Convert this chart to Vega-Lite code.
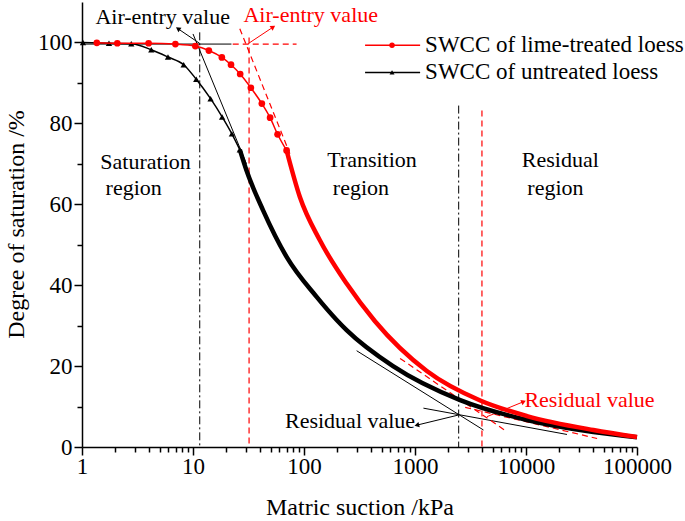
{
  "$schema": "https://vega.github.io/schema/vega-lite/v6.json",
  "width": 555,
  "height": 445,
  "autosize": {"type": "none"},
  "padding": {"left": 82, "top": 2, "right": 48, "bottom": 74},
  "background": "white",
  "config": {
    "view": {"stroke": null},
    "font": "Liberation Serif",
    "axis": {
      "grid": false,
      "domainColor": "black",
      "domainWidth": 1.5,
      "tickColor": "black",
      "tickWidth": 1.5,
      "labelFont": "Liberation Serif",
      "labelFontSize": 23,
      "labelColor": "black",
      "titleFont": "Liberation Serif",
      "titleFontSize": 24,
      "titleFontWeight": "normal",
      "titleColor": "black"
    }
  },
  "datasets": {
    "lime_pts": [
      {"x": 1.36, "y": 99.9}, {"x": 2.08, "y": 99.8}, {"x": 3.98, "y": 99.8}, {"x": 6.94, "y": 99.6},
      {"x": 10.5, "y": 99.1}, {"x": 13.9, "y": 98.0}, {"x": 18.2, "y": 96.3}, {"x": 22.0, "y": 94.5},
      {"x": 26.6, "y": 92.2}, {"x": 33.2, "y": 88.8}, {"x": 41.7, "y": 84.9}, {"x": 49.5, "y": 81.4},
      {"x": 57.8, "y": 77.3}, {"x": 69.7, "y": 73.3}
    ],
    "lime_line": [
      {"x": 69.7, "y": 73.3}, {"x": 91.8, "y": 61.8}, {"x": 139, "y": 51.1}, {"x": 242, "y": 40.4},
      {"x": 436, "y": 31.1}, {"x": 1278, "y": 18.8}, {"x": 3868, "y": 11.5},
      {"x": 10210, "y": 7.65}, {"x": 40460, "y": 4.2}, {"x": 100000, "y": 2.47}
    ],
    "untr_pts": [
      {"x": 1.02, "y": 100}, {"x": 1.75, "y": 99.8}, {"x": 2.78, "y": 99.7}, {"x": 4.21, "y": 98.2},
      {"x": 5.95, "y": 96.4}, {"x": 8.24, "y": 94.5}, {"x": 10.7, "y": 90.9}, {"x": 14.4, "y": 86.1},
      {"x": 18.3, "y": 81.6}, {"x": 22.4, "y": 77.4}, {"x": 26.4, "y": 73.5}
    ],
    "untr_line": [
      {"x": 26.4, "y": 73.5}, {"x": 30.3, "y": 68.4}, {"x": 42.8, "y": 58.5}, {"x": 69.7, "y": 47.0},
      {"x": 130, "y": 37.1}, {"x": 197, "y": 31.4}, {"x": 242, "y": 28.9}, {"x": 634, "y": 20.0},
      {"x": 2553, "y": 11.6}, {"x": 10210, "y": 6.67}, {"x": 40460, "y": 3.7}, {"x": 100000, "y": 2.4}
    ],
    "blk": [
      {"id": "h", "o": 0, "x": 1, "y": 99.6}, {"id": "h", "o": 1, "x": 22.2, "y": 99.6},
      {"id": "t1", "o": 0, "x": 10.0, "y": 102.1}, {"id": "t1", "o": 1, "x": 30.3, "y": 70.0},
      {"id": "t2", "o": 0, "x": 298, "y": 23.8}, {"id": "t2", "o": 1, "x": 4140, "y": 4.2},
      {"id": "t3", "o": 0, "x": 1191, "y": 9.6}, {"id": "t3", "o": 1, "x": 23400, "y": 3.1},
      {"id": "a1", "o": 0, "x": 11.5, "y": 99.75}, {"id": "a1", "o": 1, "x": 7.32, "y": 103.4},
      {"id": "a2", "o": 0, "x": 2460, "y": 7.9}, {"id": "a2", "o": 1, "x": 1038, "y": 5.4}
    ],
    "dd": [
      {"id": "v1", "o": 0, "x": 11.5, "y": 102.5}, {"id": "v1", "o": 1, "x": 11.5, "y": 0},
      {"id": "v2", "o": 0, "x": 2475, "y": 84.4}, {"id": "v2", "o": 1, "x": 2475, "y": 0}
    ],
    "rd": [
      {"id": "h", "o": 0, "x": 22.8, "y": 99.6}, {"id": "h", "o": 1, "x": 85.7, "y": 99.6},
      {"id": "v1", "o": 0, "x": 32, "y": 101.2}, {"id": "v1", "o": 1, "x": 32, "y": 0},
      {"id": "v2", "o": 0, "x": 4010, "y": 83.2}, {"id": "v2", "o": 1, "x": 4010, "y": 0},
      {"id": "t1", "o": 0, "x": 26.4, "y": 103.4}, {"id": "t1", "o": 1, "x": 74.6, "y": 72.5},
      {"id": "t2", "o": 0, "x": 734, "y": 21.9}, {"id": "t2", "o": 1, "x": 6730, "y": 3.8},
      {"id": "t3", "o": 0, "x": 2832, "y": 9.8}, {"id": "t3", "o": 1, "x": 43700, "y": 2.1}
    ],
    "rs": [
      {"id": "a1", "o": 0, "x": 31.4, "y": 99.7}, {"id": "a1", "o": 1, "x": 52.7, "y": 103.8},
      {"id": "a2", "o": 0, "x": 4450, "y": 7.5}, {"id": "a2", "o": 1, "x": 9510, "y": 11.2}
    ],
    "heads": [
      {"id": "bA", "x": 7.32, "y": 103.4}, {"id": "rA", "x": 52.7, "y": 103.8},
      {"id": "bR", "x": 1038, "y": 5.4}, {"id": "rR", "x": 9510, "y": 11.2}
    ],
    "txt_black": [
      {"t": "Air-entry value", "x": 5.33, "y": 106.2},
      {"t": "Saturation", "x": 3.74, "y": 70.4}, {"t": "region", "x": 2.92, "y": 64.0},
      {"t": "Transition", "x": 410, "y": 70.9}, {"t": "region", "x": 326, "y": 64.0},
      {"t": "Residual", "x": 20400, "y": 70.9}, {"t": "region", "x": 18400, "y": 64.0},
      {"t": "Residual value", "x": 260, "y": 6.4}
    ],
    "txt_red": [
      {"t": "Air-entry value", "x": 115, "y": 106.7},
      {"t": "Residual value", "x": 37300, "y": 11.6}
    ],
    "leg_lines": [
      {"s": "lime", "o": 0, "x": 355, "y": 99.3}, {"s": "lime", "o": 1, "x": 1112, "y": 99.3},
      {"s": "untr", "o": 0, "x": 355, "y": 92.6}, {"s": "untr", "o": 1, "x": 1112, "y": 92.6}
    ],
    "leg_pts": [
      {"s": "lime", "x": 621, "y": 99.3}, {"s": "untr", "x": 621, "y": 92.6}
    ],
    "leg_txt": [
      {"s": "lime", "t": "SWCC of lime-treated loess", "x": 1233, "y": 99.3},
      {"s": "untr", "t": "SWCC of untreated loess", "x": 1233, "y": 92.6}
    ]
  },
  "encoding": {
    "x": {
      "field": "x", "type": "quantitative",
      "scale": {"type": "log", "domain": [1, 100000]},
      "axis": {
        "title": "Matric suction /kPa",
        "values": [1,2,3,4,5,6,7,8,9,10,20,30,40,50,60,70,80,90,100,200,300,400,500,600,700,800,900,1000,2000,3000,4000,5000,6000,7000,8000,9000,10000,20000,30000,40000,50000,60000,70000,80000,90000,100000],
        "format": "d",
        "labelExpr": "indexof([1,10,100,1000,10000,100000], datum.value) >= 0 ? datum.label : ''",
        "tickSize": {"condition": {"test": "indexof([1,10,100,1000,10000,100000], datum.value) >= 0", "value": 8}, "value": 5},
        "labelPadding": 0,
        "labelFlush": false,
        "labelOverlap": false,
        "titleY": 67,
        "titleBaseline": "alphabetic"
      }
    },
    "y": {
      "field": "y", "type": "quantitative",
      "scale": {"domain": [0, 110], "nice": false},
      "axis": {
        "title": "Degree of saturation /%",
        "values": [0,10,20,30,40,50,60,70,80,90,100],
        "labelExpr": "datum.value % 20 == 0 ? datum.label : ''",
        "tickSize": {"condition": {"test": "datum.value % 20 == 0", "value": 8}, "value": 5},
        "labelPadding": 2,
        "labelOverlap": false,
        "titleX": -66,
        "titleY": 222,
        "titleBaseline": "middle",
        "titleAlign": "center"
      }
    }
  },
  "layer": [
    {"data": {"name": "blk"}, "mark": {"type": "line", "color": "black", "strokeWidth": 1}, "encoding": {"detail": {"field": "id"}, "order": {"field": "o"}}},
    {"data": {"name": "dd"}, "mark": {"type": "line", "color": "black", "strokeWidth": 1, "strokeDash": [8, 3, 2, 3]}, "encoding": {"detail": {"field": "id"}, "order": {"field": "o"}}},
    {"data": {"name": "rd"}, "mark": {"type": "line", "color": "#ff0000", "strokeWidth": 1.2, "strokeDash": [6, 4]}, "encoding": {"detail": {"field": "id"}, "order": {"field": "o"}}},
    {"data": {"name": "rs"}, "mark": {"type": "line", "color": "#ff0000", "strokeWidth": 1}, "encoding": {"detail": {"field": "id"}, "order": {"field": "o"}}},
    {"data": {"name": "untr_line"}, "mark": {"type": "line", "color": "black", "strokeWidth": 4.5, "interpolate": "monotone"}, "encoding": {}},
    {"data": {"name": "lime_line"}, "mark": {"type": "line", "color": "#ff0000", "strokeWidth": 4.5, "interpolate": "monotone"}, "encoding": {}},
    {"data": {"name": "untr_pts"}, "mark": {"type": "line", "color": "black", "strokeWidth": 1.5, "interpolate": "monotone"}, "encoding": {}},
    {"data": {"name": "untr_pts"}, "mark": {"type": "point", "shape": "triangle-up", "filled": true, "color": "black", "size": 40, "opacity": 1}},
    {"data": {"name": "lime_pts"}, "mark": {"type": "line", "color": "#ff0000", "strokeWidth": 1.5, "interpolate": "monotone"}, "encoding": {}},
    {"data": {"name": "lime_pts"}, "mark": {"type": "point", "shape": "circle", "filled": true, "color": "#ff0000", "size": 45, "opacity": 1}},
    {"data": {"name": "heads"}, "transform": [{"filter": "datum.id == 'bA'"}], "mark": {"type": "point", "shape": "triangle-up", "filled": true, "color": "black", "size": 30, "opacity": 1, "angle": 304}},
    {"data": {"name": "heads"}, "transform": [{"filter": "datum.id == 'rA'"}], "mark": {"type": "point", "shape": "triangle-up", "filled": true, "color": "#ff0000", "size": 30, "opacity": 1, "angle": 57}},
    {"data": {"name": "heads"}, "transform": [{"filter": "datum.id == 'bR'"}], "mark": {"type": "point", "shape": "triangle-up", "filled": true, "color": "black", "size": 30, "opacity": 1, "angle": 256}},
    {"data": {"name": "heads"}, "transform": [{"filter": "datum.id == 'rR'"}], "mark": {"type": "point", "shape": "triangle-up", "filled": true, "color": "#ff0000", "size": 30, "opacity": 1, "angle": 67}},
    {"data": {"name": "txt_black"}, "mark": {"type": "text", "font": "Liberation Serif", "fontSize": 22, "color": "black", "align": "center", "baseline": "middle"}, "encoding": {"text": {"field": "t"}}},
    {"data": {"name": "txt_red"}, "mark": {"type": "text", "font": "Liberation Serif", "fontSize": 22, "color": "#ff0000", "align": "center", "baseline": "middle"}, "encoding": {"text": {"field": "t"}}},
    {"data": {"name": "leg_lines"}, "transform": [{"filter": "datum.s == 'lime'"}], "mark": {"type": "line", "color": "#ff0000", "strokeWidth": 1.5}, "encoding": {"order": {"field": "o"}}},
    {"data": {"name": "leg_lines"}, "transform": [{"filter": "datum.s == 'untr'"}], "mark": {"type": "line", "color": "black", "strokeWidth": 1.5}, "encoding": {"order": {"field": "o"}}},
    {"data": {"name": "leg_pts"}, "transform": [{"filter": "datum.s == 'lime'"}], "mark": {"type": "point", "shape": "circle", "filled": true, "color": "#ff0000", "size": 30, "opacity": 1}},
    {"data": {"name": "leg_pts"}, "transform": [{"filter": "datum.s == 'untr'"}], "mark": {"type": "point", "shape": "triangle-up", "filled": true, "color": "black", "size": 25, "opacity": 1}},
    {"data": {"name": "leg_txt"}, "mark": {"type": "text", "font": "Liberation Serif", "fontSize": 23, "color": "black", "align": "left", "baseline": "middle"}, "encoding": {"text": {"field": "t"}}}
  ]
}
